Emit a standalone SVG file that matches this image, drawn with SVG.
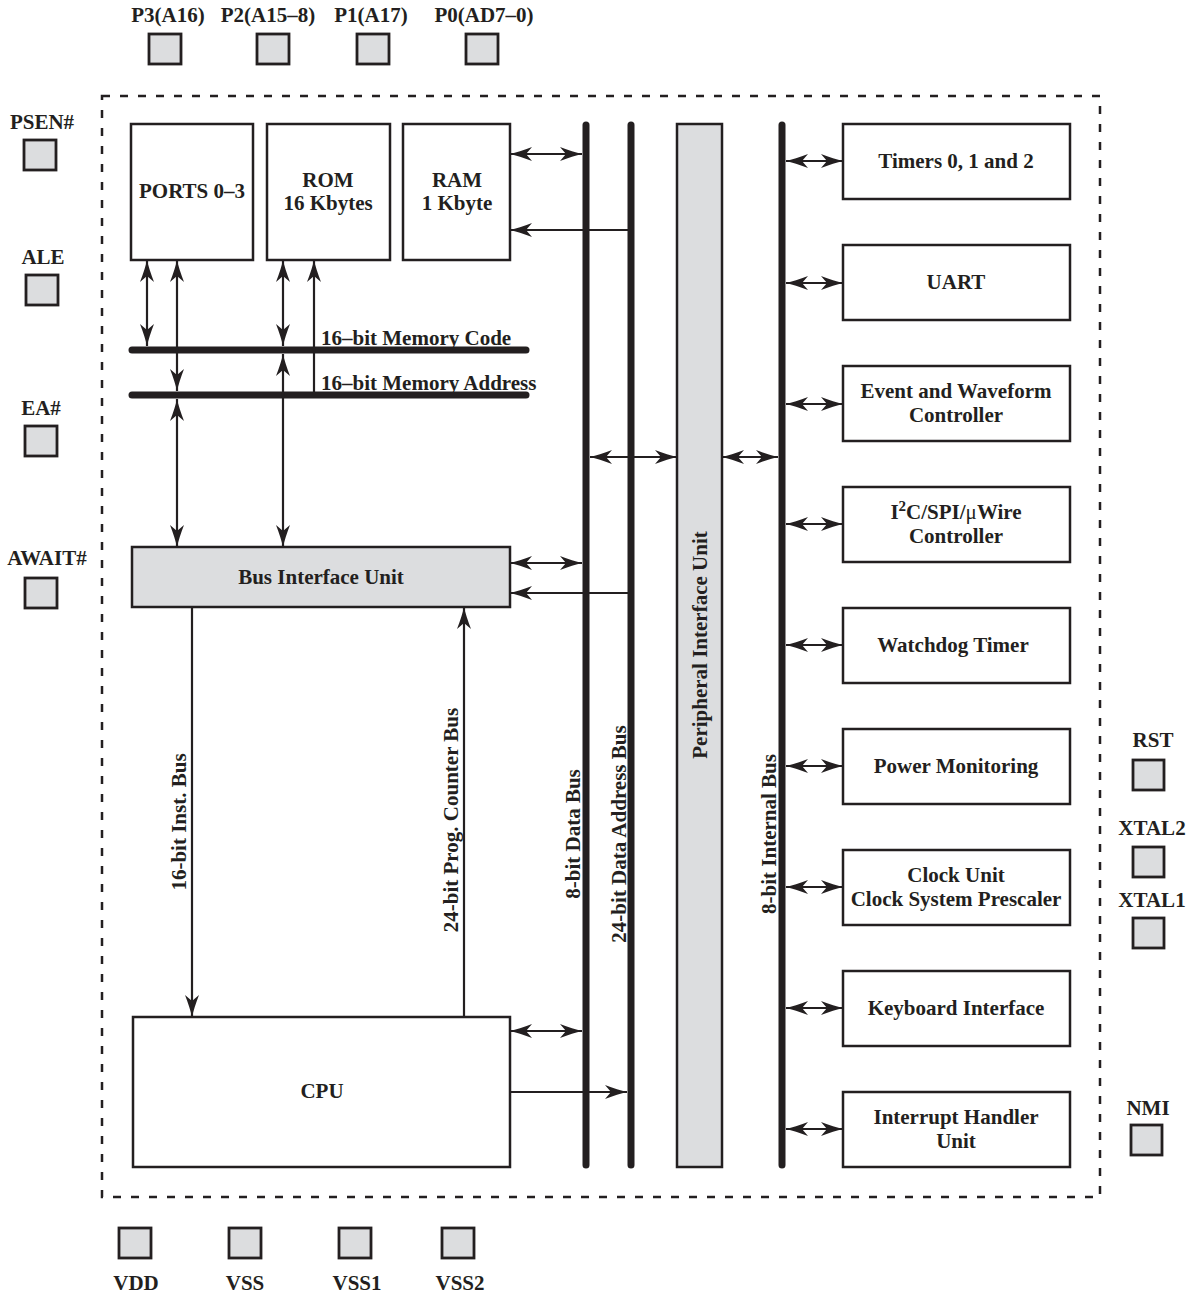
<svg xmlns="http://www.w3.org/2000/svg" width="1192" height="1297" viewBox="0 0 1192 1297">
<defs>
<style>
text{font-family:"Liberation Serif","Times New Roman",serif;font-weight:bold;font-size:21px;fill:#231f20}
.c{text-anchor:middle}
.box{fill:#fff;stroke:#231f20;stroke-width:2.5}
.gray{fill:#dcdddf;stroke:#231f20;stroke-width:2.5}
.pin{fill:#dcdddf;stroke:#231f20;stroke-width:2.8}
.bus{stroke:#231f20;stroke-width:7;stroke-linecap:round;fill:none}
.ln{stroke:#231f20;stroke-width:2.2;fill:none}
.a1{marker-end:url(#ah)}
.a2{marker-start:url(#ah);marker-end:url(#ah)}
.border{fill:none;stroke:#231f20;stroke-width:2.5;stroke-dasharray:8 10}
</style>
<marker id="ah" refX="22" refY="8" markerWidth="23" markerHeight="17" markerUnits="userSpaceOnUse" orient="auto-start-reverse" overflow="visible">
<path d="M0,1 Q13,6 22,8 Q13,10 0,15 L6,8 Z" fill="#231f20"/>
</marker>
</defs>
<rect class="border" x="102" y="96" width="998" height="1101"/>

<g id="pins">
<g id="pin-p3"><text class="c" x="168" y="22">P3(A16)</text><rect class="pin" x="149" y="34" width="32" height="30"/></g>
<g id="pin-p2"><text class="c" x="268" y="22">P2(A15–8)</text><rect class="pin" x="257" y="34" width="32" height="30"/></g>
<g id="pin-p1"><text class="c" x="371" y="22">P1(A17)</text><rect class="pin" x="357" y="34" width="32" height="30"/></g>
<g id="pin-p0"><text class="c" x="484" y="22">P0(AD7–0)</text><rect class="pin" x="466" y="34" width="32" height="30"/></g>
<g id="pin-psen"><text class="c" x="42" y="129">PSEN#</text><rect class="pin" x="24" y="140" width="32" height="30"/></g>
<g id="pin-ale"><text class="c" x="43" y="264">ALE</text><rect class="pin" x="26" y="275" width="32" height="30"/></g>
<g id="pin-ea"><text class="c" x="41" y="415">EA#</text><rect class="pin" x="25" y="426" width="32" height="30"/></g>
<g id="pin-await"><text class="c" x="47" y="565">AWAIT#</text><rect class="pin" x="25" y="578" width="32" height="30"/></g>
<g id="pin-rst"><text class="c" x="1153" y="747">RST</text><rect class="pin" x="1133" y="760" width="31" height="30"/></g>
<g id="pin-xtal2"><text class="c" x="1152" y="835">XTAL2</text><rect class="pin" x="1133" y="847" width="31" height="30"/></g>
<g id="pin-xtal1"><text class="c" x="1152" y="907">XTAL1</text><rect class="pin" x="1133" y="918" width="31" height="30"/></g>
<g id="pin-nmi"><text class="c" x="1148" y="1115">NMI</text><rect class="pin" x="1131" y="1125" width="31" height="30"/></g>
<g id="pin-vdd"><rect class="pin" x="119" y="1228" width="32" height="30"/><text class="c" x="136" y="1290">VDD</text></g>
<g id="pin-vss"><rect class="pin" x="229" y="1228" width="32" height="30"/><text class="c" x="245" y="1290">VSS</text></g>
<g id="pin-vss1"><rect class="pin" x="339" y="1228" width="32" height="30"/><text class="c" x="357" y="1290">VSS1</text></g>
<g id="pin-vss2"><rect class="pin" x="442" y="1228" width="32" height="30"/><text class="c" x="460" y="1290">VSS2</text></g>
</g>

<g id="ports"><rect class="box" x="131" y="124" width="122" height="136"/><text class="c" x="192" y="198">PORTS 0–3</text></g>
<g id="rom"><rect class="box" x="267" y="124" width="123" height="136"/><text class="c" x="328" y="187">ROM</text><text class="c" x="328" y="210">16 Kbytes</text></g>
<g id="ram"><rect class="box" x="403" y="124" width="107" height="136"/><text class="c" x="457" y="187">RAM</text><text class="c" x="457" y="210">1 Kbyte</text></g>
<g id="biu"><rect class="gray" x="132" y="547" width="378" height="60"/><text class="c" x="321" y="584">Bus Interface Unit</text></g>
<g id="cpu"><rect class="box" x="133" y="1017" width="377" height="150"/><text class="c" x="322" y="1098">CPU</text></g>
<g id="piu"><rect class="gray" x="677" y="124" width="45" height="1043"/><text class="c" transform="translate(707,645) rotate(-90)">Peripheral Interface Unit</text></g>

<g id="timers"><rect class="box" x="843" y="124" width="227" height="75"/><text class="c" x="956" y="168">Timers 0, 1 and 2</text></g>
<g id="uart"><rect class="box" x="843" y="245" width="227" height="75"/><text class="c" x="956" y="289">UART</text></g>
<g id="ewc"><rect class="box" x="843" y="366" width="227" height="75"/><text class="c" x="956" y="398">Event and Waveform</text><text class="c" x="956" y="422">Controller</text></g>
<g id="i2c"><rect class="box" x="843" y="487" width="227" height="75"/><text class="c" x="956" y="519">I<tspan font-size="15" dy="-8">2</tspan><tspan dy="8">C/SPI/</tspan><tspan font-weight="normal">μ</tspan>Wire</text><text class="c" x="956" y="543">Controller</text></g>
<g id="wdt"><rect class="box" x="843" y="608" width="227" height="75"/><text class="c" x="953" y="652">Watchdog Timer</text></g>
<g id="power"><rect class="box" x="843" y="729" width="227" height="75"/><text class="c" x="956" y="773">Power Monitoring</text></g>
<g id="clock"><rect class="box" x="843" y="850" width="227" height="75"/><text class="c" x="956" y="882">Clock Unit</text><text class="c" x="956" y="906">Clock System Prescaler</text></g>
<g id="kbd"><rect class="box" x="843" y="971" width="227" height="75"/><text class="c" x="956" y="1015">Keyboard Interface</text></g>
<g id="irq"><rect class="box" x="843" y="1092" width="227" height="75"/><text class="c" x="956" y="1124">Interrupt Handler</text><text class="c" x="956" y="1148">Unit</text></g>

<g id="connectors">
<line class="bus" x1="586" y1="125" x2="586" y2="1165"/>
<line class="bus" x1="631" y1="125" x2="631" y2="1165"/>
<line class="bus" x1="782" y1="125" x2="782" y2="1165"/>
<line class="bus" x1="132" y1="350" x2="526" y2="350"/>
<line class="bus" x1="132" y1="395" x2="526" y2="395"/>
<text x="321" y="345">16–bit Memory Code</text>
<text x="321" y="390">16–bit Memory Address</text>
<text class="c" transform="translate(186,822) rotate(-90)">16-bit Inst. Bus</text>
<text class="c" transform="translate(458,820) rotate(-90)">24-bit Prog. Counter Bus</text>
<text class="c" transform="translate(580,834) rotate(-90)">8-bit Data Bus</text>
<text class="c" transform="translate(626,834) rotate(-90)">24-bit Data Address Bus</text>
<text class="c" transform="translate(776,834) rotate(-90)">8-bit Internal Bus</text>
<line class="ln a2" x1="147" y1="260" x2="147" y2="346"/>
<line class="ln a2" x1="177" y1="260" x2="177" y2="391"/>
<line class="ln a2" x1="177" y1="399" x2="177" y2="547"/>
<line class="ln a2" x1="283" y1="260" x2="283" y2="346"/>
<line class="ln a2" x1="283" y1="354" x2="283" y2="547"/>
<line class="ln a1" x1="314" y1="395" x2="314" y2="260"/>
<line class="ln a2" x1="510" y1="154" x2="582" y2="154"/>
<line class="ln a1" x1="631" y1="230" x2="510" y2="230"/>
<line class="ln a2" x1="510" y1="563" x2="582" y2="563"/>
<line class="ln a1" x1="631" y1="593" x2="510" y2="593"/>
<line class="ln a1" x1="192" y1="607" x2="192" y2="1017"/>
<line class="ln a1" x1="464" y1="1017" x2="464" y2="607"/>
<line class="ln a2" x1="510" y1="1031" x2="582" y2="1031"/>
<line class="ln a1" x1="510" y1="1092" x2="627" y2="1092"/>
<line class="ln a2" x1="590" y1="457" x2="677" y2="457"/>
<line class="ln a2" x1="722" y1="457" x2="778" y2="457"/>
<line class="ln a2" x1="786" y1="161" x2="843" y2="161"/>
<line class="ln a2" x1="786" y1="283" x2="843" y2="283"/>
<line class="ln a2" x1="786" y1="404" x2="843" y2="404"/>
<line class="ln a2" x1="786" y1="524" x2="843" y2="524"/>
<line class="ln a2" x1="786" y1="645" x2="843" y2="645"/>
<line class="ln a2" x1="786" y1="766" x2="843" y2="766"/>
<line class="ln a2" x1="786" y1="887" x2="843" y2="887"/>
<line class="ln a2" x1="786" y1="1008" x2="843" y2="1008"/>
<line class="ln a2" x1="786" y1="1129" x2="843" y2="1129"/>
</g>
</svg>
